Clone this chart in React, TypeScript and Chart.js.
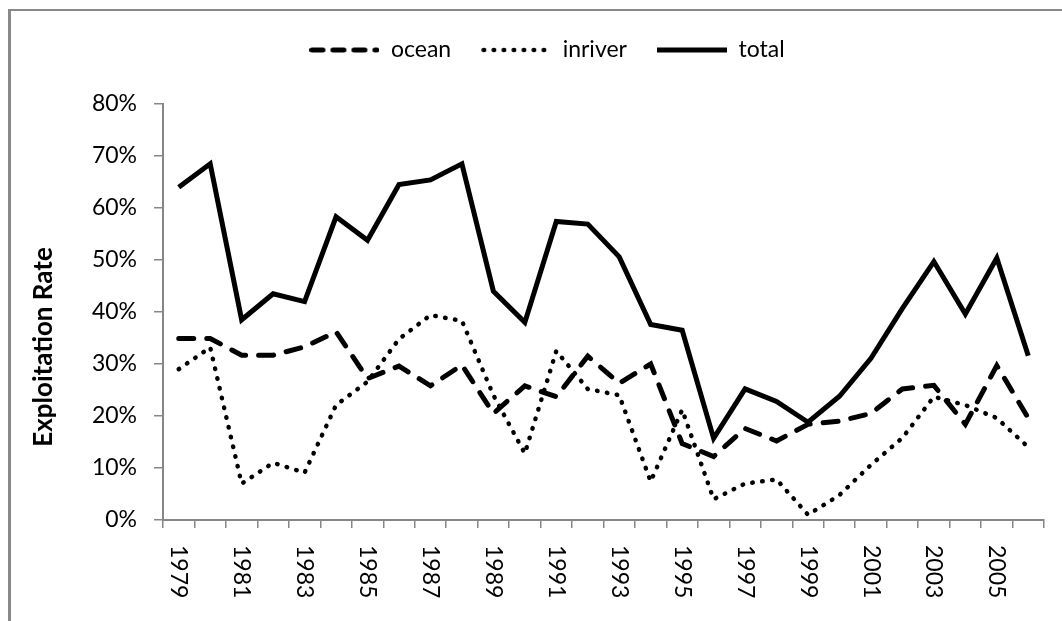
import React, { useEffect, useRef } from "react";
import { Chart, registerables } from "chart.js";

Chart.register(...registerables);

const years: number[] = [
  1979, 1980, 1981, 1982, 1983, 1984, 1985, 1986, 1987, 1988, 1989, 1990, 1991, 1992,
  1993, 1994, 1995, 1996, 1997, 1998, 1999, 2000, 2001, 2002, 2003, 2004, 2005, 2006,
];

const xTickLabels: string[] = [
  "1979", "1981", "1983", "1985", "1987", "1989", "1991", "1993", "1995", "1997", "1999", "2001", "2003", "2005",
];

const oceanValues: number[] = [
  34.9, 34.9, 31.7, 31.7, 33.3, 36.2, 27.2, 29.6, 25.8, 29.8, 20.5, 25.8, 23.7, 31.5,
  26.3, 30.0, 14.7, 12.2, 17.6, 15.2, 18.4, 19.0, 20.5, 25.2, 25.9, 18.4, 29.7, 19.6,
];

const inriverValues: number[] = [
  29.0, 33.2, 7.0, 11.0, 9.1, 22.1, 26.6, 34.8, 39.4, 38.3, 24.0, 12.8, 32.5, 25.2,
  24.0, 7.4, 21.2, 4.0, 7.0, 7.8, 1.0, 4.8, 10.6, 15.8, 23.7, 22.1, 19.6, 14.0,
];

const totalValues: number[] = [
  64.0, 68.5, 38.5, 43.5, 42.0, 58.3, 53.8, 64.5, 65.4, 68.5, 44.0, 38.0, 57.4, 56.9,
  50.6, 37.6, 36.5, 15.7, 25.2, 22.8, 18.8, 23.8, 31.1, 40.7, 49.7, 39.6, 50.4, 31.6,
];

const seriesNames: string[] = ["ocean", "inriver", "total"];
const yTitle = "Exploitation Rate";

const FONT = "Lato, 'Open Sans', 'DejaVu Sans', sans-serif";
const AXIS_GRAY = "#868686";
const FRAME_GRAY = "#898989";

// line styles per series (plot and legend sample)
const seriesDash: number[][] = [[15, 13], [0.5, 9.5], []];
const legendDash: number[][] = [[11, 10], [0.5, 9.5], []];
const seriesWidth: number[] = [5, 4.5, 5];

function makeSample(dash: number[], width: number): HTMLCanvasElement {
  const c = document.createElement("canvas");
  c.width = 70;
  c.height = 10;
  const ctx = c.getContext("2d")!;
  ctx.strokeStyle = "#000";
  ctx.lineWidth = width;
  ctx.lineCap = dash.length ? "round" : "butt";
  ctx.setLineDash(dash);
  ctx.beginPath();
  if (dash.length) {
    ctx.moveTo(2.5, 5);
    ctx.lineTo(67.5, 5);
  } else {
    ctx.moveTo(0, 5);
    ctx.lineTo(70, 5);
  }
  ctx.stroke();
  return c;
}

const decorPlugin = {
  id: "decorPlugin",
  beforeDraw(chart: any) {
    const ctx = chart.ctx;
    ctx.save();
    ctx.fillStyle = FRAME_GRAY;
    ctx.fillRect(8, 9, 3, chart.height);
    ctx.fillRect(8, 9, chart.width, 2);
    ctx.restore();
  },
  afterDraw(chart: any) {
    const ctx = chart.ctx;
    const xs = chart.scales.x;
    const area = chart.chartArea;
    ctx.save();
    ctx.fillStyle = "#000";
    ctx.font = `23px ${FONT}`;
    ctx.textAlign = "left";
    ctx.textBaseline = "middle";
    years.forEach((yr, i) => {
      const label = String(yr);
      if (!xTickLabels.includes(label)) return;
      const x = xs.getPixelForValue(i);
      ctx.save();
      ctx.translate(x, area.bottom + 25);
      ctx.rotate(Math.PI / 2);
      ctx.fillText(label, 0, 0);
      ctx.restore();
    });
    ctx.font = `bold 26px ${FONT}`;
    ctx.textAlign = "center";
    ctx.translate(44, (area.top + area.bottom) / 2 + 35);
    ctx.rotate(-Math.PI / 2);
    ctx.fillText(yTitle, 0, 0);
    ctx.restore();
  },
};

export default function App() {
  const canvasRef = useRef<HTMLCanvasElement | null>(null);

  useEffect(() => {
    if (!canvasRef.current) return;
    const samples = seriesNames.map((_, i) => makeSample(legendDash[i], seriesWidth[i]));
    const valueSets = [oceanValues, inriverValues, totalValues];
    const chart = new Chart(canvasRef.current, {
      type: "line",
      data: {
        labels: years.map(String),
        datasets: seriesNames.map((name, i) => ({
          label: name,
          data: valueSets[i],
          borderColor: "#000",
          backgroundColor: "#000",
          borderWidth: seriesWidth[i],
          borderDash: seriesDash[i],
          borderCapStyle: seriesDash[i].length ? "round" : "butt",
          borderJoinStyle: "miter",
          pointRadius: 0,
          tension: 0,
          fill: false,
        })) as any,
      },
      options: {
        responsive: false,
        animation: false,
        layout: { padding: { left: 50, right: 18, top: 8.5, bottom: 0 } },
        plugins: {
          legend: {
            display: true,
            position: "top",
            align: "center",
            weight: 2000,
            labels: {
              usePointStyle: true,
              pointStyleWidth: 70,
              boxWidth: 70,
              padding: 30,
              color: "#000",
              font: { family: FONT, size: 23 },
              generateLabels: (ch: any) => {
                const items = Chart.defaults.plugins.legend.labels.generateLabels(ch);
                return items.map((it: any, i: number) => ({ ...it, pointStyle: samples[i], rotation: 0 }));
              },
            },
          },
          subtitle: {
            display: true,
            text: "",
            font: { size: 10 },
            padding: { top: 10, bottom: 10.5 },
          },
          title: { display: false },
          tooltip: { enabled: false },
        },
        scales: {
          x: {
            type: "category",
            offset: true,
            grid: {
              offset: true,
              display: true,
              drawOnChartArea: false,
              drawTicks: true,
              tickLength: 8,
              color: AXIS_GRAY,
              lineWidth: 1.5,
            },
            border: { display: true, color: AXIS_GRAY, width: 2 },
            ticks: { display: false },
            afterFit: (s: any) => {
              s.height = 101;
            },
          },
          y: {
            min: 0,
            max: 80,
            ticks: {
              stepSize: 10,
              callback: (v: any) => `${v}%`,
              color: "#000",
              font: { family: FONT, size: 23 },
              padding: 17,
            },
            grid: {
              display: true,
              drawOnChartArea: false,
              drawTicks: true,
              tickLength: 9,
              color: AXIS_GRAY,
              lineWidth: 1.5,
            },
            border: { display: true, color: AXIS_GRAY, width: 2 },
            afterFit: (s: any) => {
              s.width = 113;
            },
          },
        },
      },
      plugins: [decorPlugin],
    });
    return () => chart.destroy();
  }, []);

  return (
    <div style={{ position: "fixed", left: 0, top: 0, width: 1062, height: 621, overflow: "hidden", background: "#fff" }}>
      <canvas ref={canvasRef} width={1062} height={621} style={{ display: "block" }} />
    </div>
  );
}
